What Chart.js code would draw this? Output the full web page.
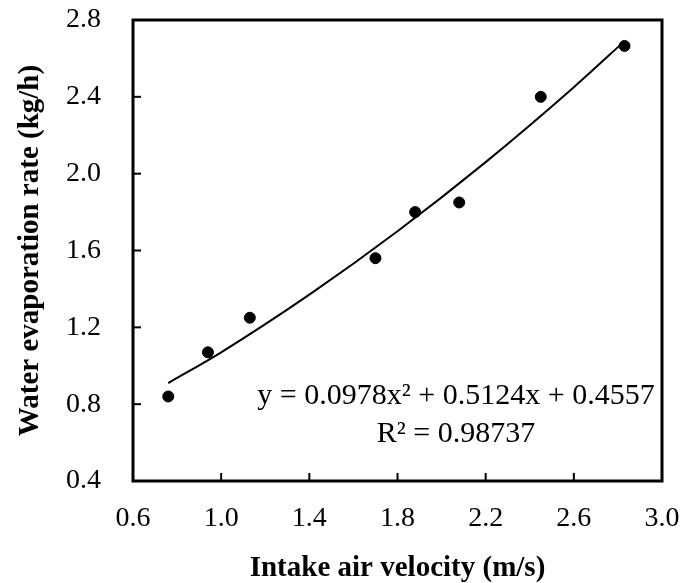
<!DOCTYPE html>
<html>
<head>
<meta charset="utf-8">
<script src="https://cdn.jsdelivr.net/npm/chart.js@4/dist/chart.umd.min.js"></script>
<style>
  html, body { margin: 0; padding: 0; background: #fff; }
  #wrap { width: 680px; height: 583px; }
</style>
</head>
<body>
<div id="wrap"><canvas id="chart" width="680" height="583"></canvas></div>
<script>
// measured points (intake air velocity m/s, evaporation kg/h)
const velocity = [0.76, 0.94, 1.13, 1.70, 1.88, 2.08, 2.45, 2.83];
const evaporation = [0.84, 1.07, 1.25, 1.56, 1.80, 1.85, 2.40, 2.665];

// trendline
const trendX = [0.76, 1.0, 1.4, 1.8, 2.2, 2.6, 2.83];
const trendY = [0.91, 1.07, 1.37, 1.70, 2.06, 2.45, 2.69];

const xTicks = [0.6, 1.0, 1.4, 1.8, 2.2, 2.6, 3.0];
const yTicks = [0.4, 0.8, 1.2, 1.6, 2.0, 2.4, 2.8];

const equationText = 'y = 0.0978x² + 0.5124x + 0.4557';
const r2Text = 'R² = 0.98737';

const serif = '"Liberation Serif", "Times New Roman", serif';

// box round the plot + inward ticks on left and bottom
const framePlugin = {
    id: 'frame',
    afterDraw(chart) {
        const { ctx, chartArea: a, scales } = chart;
        ctx.save();
        ctx.strokeStyle = '#000';
        ctx.lineWidth = 2;
        xTicks.forEach(v => {
            const px = scales.x.getPixelForValue(v);
            ctx.beginPath();
            ctx.moveTo(px, a.bottom);
            ctx.lineTo(px, a.bottom - 8);
            ctx.stroke();
        });
        yTicks.forEach(v => {
            const py = scales.y.getPixelForValue(v);
            ctx.beginPath();
            ctx.moveTo(a.left, py);
            ctx.lineTo(a.left + 8, py);
            ctx.stroke();
        });
        ctx.lineWidth = 3;
        ctx.strokeRect(a.left, a.top, a.right - a.left, a.bottom - a.top);
        ctx.restore();
    }
};

// equation label
const equationPlugin = {
    id: 'equation',
    afterDraw(chart) {
        const { ctx, chartArea: a } = chart;
        const cx = a.left + 323;
        ctx.save();
        ctx.fillStyle = '#000';
        ctx.font = '30px ' + serif;
        ctx.textAlign = 'center';
        ctx.textBaseline = 'middle';
        ctx.fillText(equationText, cx, a.top + 376);
        ctx.fillText(r2Text, cx, a.top + 414);
        ctx.restore();
    }
};

const ctx = document.getElementById('chart').getContext('2d');
new Chart(ctx, {
    type: 'scatter',
    data: {
        datasets: [
            {
                label: 'Trend',
                data: trendX.map((x, i) => ({ x: x, y: trendY[i] })),
                showLine: true,
                cubicInterpolationMode: 'monotone',
                borderColor: '#000',
                borderWidth: 2,
                pointRadius: 0,
                fill: false
            },
            {
                label: 'Measured',
                data: velocity.map((x, i) => ({ x: x, y: evaporation[i] })),
                backgroundColor: '#000',
                borderColor: '#000',
                pointRadius: 5.5,
                pointHoverRadius: 5.5
            }
        ]
    },
    options: {
        responsive: false,
        animation: false,
        events: [],
        layout: { padding: { top: 20, right: 18, left: 0, bottom: 0 } },
        plugins: {
            legend: { display: false },
            tooltip: { enabled: false }
        },
        scales: {
            x: {
                type: 'linear',
                min: 0.6,
                max: 3.0,
                afterBuildTicks: s => { s.ticks = xTicks.map(v => ({ value: v })); },
                afterFit: s => {
                    s.height = 102;
                    s.paddingLeft = 0;
                    s.paddingRight = 0;
                },
                border: { display: false },
                grid: { display: false, drawTicks: false },
                ticks: {
                    padding: 21,
                    color: '#000',
                    font: { family: serif, size: 28 },
                    callback: v => v.toFixed(1)
                },
                title: {
                    display: true,
                    text: 'Intake air velocity (m/s)',
                    color: '#000',
                    font: { family: serif, size: 29, weight: 'bold' },
                    padding: { top: 0, bottom: -3 }
                }
            },
            y: {
                type: 'linear',
                min: 0.4,
                max: 2.8,
                afterBuildTicks: s => { s.ticks = yTicks.map(v => ({ value: v })); },
                afterFit: s => {
                    s.width = 133;
                    s.paddingTop = 0;
                    s.paddingBottom = 0;
                },
                border: { display: false },
                grid: { display: false, drawTicks: false },
                ticks: {
                    padding: 32,
                    color: '#000',
                    font: { family: serif, size: 28 },
                    callback: v => v.toFixed(1)
                },
                title: {
                    display: true,
                    text: 'Water evaporation rate (kg/h)',
                    color: '#000',
                    font: { family: serif, size: 29, weight: 'bold' },
                    padding: { top: 13, bottom: 0 }
                }
            }
        }
    },
    plugins: [framePlugin, equationPlugin]
});
</script>
</body>
</html>
